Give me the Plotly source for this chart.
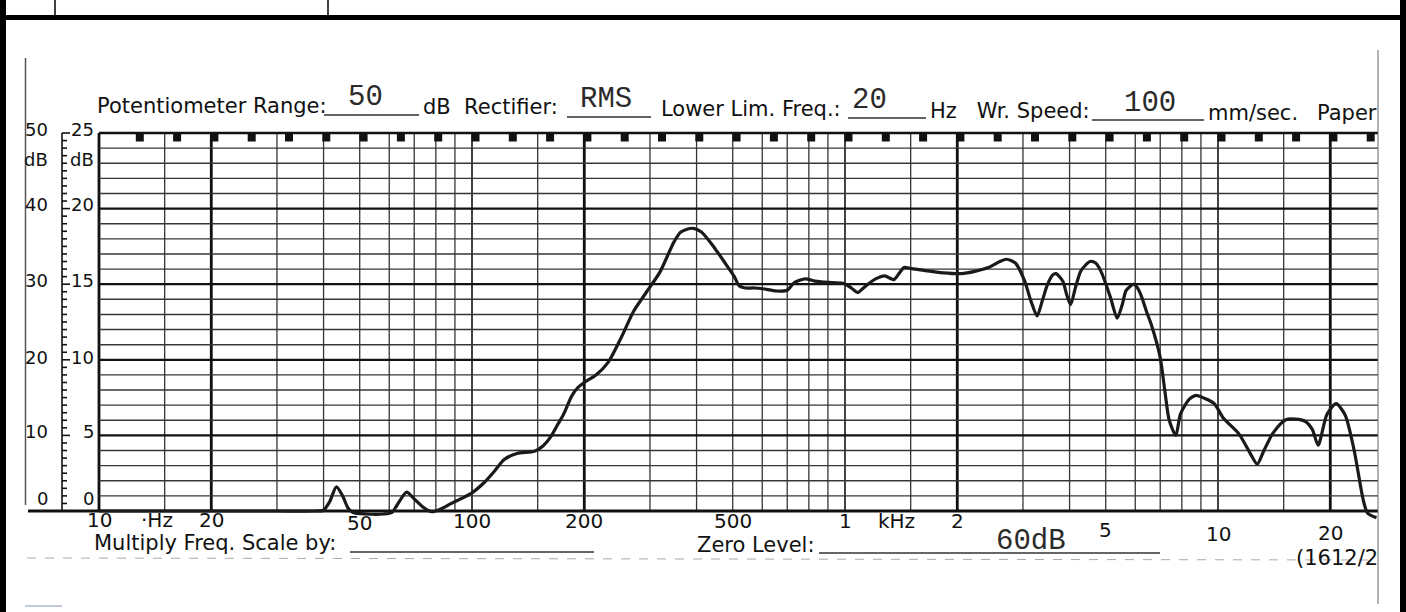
import numpy as np
import plotly.graph_objects as go

# ---------------- data read from the recorder paper ----------------
FREQ_HZ = [10, 20, 30, 38, 40, 41.5, 43.3, 45, 46.5, 48, 52, 58, 61, 63, 66.8, 70, 74, 78,
           82, 88, 95, 100, 108, 115, 122, 132, 147, 155, 162, 170, 176, 185, 192, 200,
           215, 232, 251, 271, 294, 319, 348, 363, 389, 412, 447, 480, 505, 520, 540,
           570, 602, 655, 700, 731, 783, 830, 864, 930, 993, 1040, 1081, 1120, 1159,
           1220, 1279, 1352, 1400, 1440, 1500, 1641, 1835, 2051, 2230, 2424, 2600, 2709,
           2863, 3027, 3150, 3273, 3380, 3481, 3600, 3680, 3837, 3930, 4026, 4150, 4293,
           4539, 4700, 4866, 5145, 5366, 5530, 5675, 5948, 6100, 6255, 6450, 6610, 6993,
           7190, 7400, 7710, 7927, 8380, 8737, 9200, 9772, 10330, 11380, 12210, 12740,
           13280, 14040, 15250, 17050, 17900, 18550, 19600, 20730, 21920, 23180, 24500,
           25180, 26600]
LEVEL_DB = [0.0, 0.0, 0.0, 0.0, 0.1, 1.2, 3.2, 2.0, 0.4, -0.2, -0.4, -0.4, -0.2, 0.8, 2.5,
            1.6, 0.5, -0.1, 0.2, 1.0, 1.8, 2.4, 3.8, 5.3, 6.8, 7.6, 7.9, 8.6, 9.7, 11.5,
            12.8, 15.2, 16.3, 17.0, 18.0, 19.7, 22.9, 26.4, 29.0, 31.6, 35.6, 36.9, 37.4,
            36.9, 34.8, 32.6, 31.0, 29.8, 29.5, 29.5, 29.4, 29.1, 29.2, 30.2, 30.7, 30.4,
            30.3, 30.2, 30.1, 29.5, 28.9, 29.5, 30.1, 30.8, 31.1, 30.6, 31.5, 32.2, 32.1,
            31.8, 31.5, 31.4, 31.7, 32.2, 33.0, 33.3, 32.8, 30.5, 27.8, 25.8, 27.8, 29.8,
            31.2, 31.4, 30.4, 28.6, 27.3, 29.6, 31.8, 33.0, 32.8, 31.6, 28.3, 25.5, 27.2,
            29.2, 30.0, 29.4, 28.2, 26.2, 24.8, 20.4, 16.2, 12.0, 10.0, 12.8, 14.8, 15.3,
            14.9, 14.2, 12.3, 10.2, 7.6, 6.2, 8.0, 10.3, 12.1, 11.9, 10.8, 8.7, 12.8, 14.2,
            12.7, 8.0, 1.5, -0.3, -0.9]

FREQ_TICK_HZ = [10, 20, 50, 100, 200, 500, 1000, 2000, 5000, 10000, 20000]
FREQ_TICK_TEXT = ["10", "20", "50", "100", "200", "500", "1", "2", "5", "10", "20"]
DB50_TICKS = [50, 40, 30, 20, 10, 0]
DB25_TEXT = ["25", "20", "15", "10", "5", "0"]

# ---------------- paper calibration (pixels) ----------------
W, H = 1406, 612
X10 = 99.0      # px of 10 Hz
DEC = 373.0     # px per decade
Y0 = 511.0      # px of 0 dB
PXDB = 7.56     # px per dB
EDGE_HZ = 10 ** (1 + (1378 - X10) / DEC)   # right paper edge


def hz_at(px):
    return 10 ** (1 + (px - X10) / DEC)


INK = "#111111"
THIN = "#363636"
SANS = "DejaVu Sans"
MONO = "Liberation Mono"
TYPE_INK = "#2a2a2a"

fig = go.Figure()


def seg_trace(xs, ys, color, width):
    fig.add_trace(go.Scatter(x=xs, y=ys, mode="lines", line=dict(color=color, width=width),
                             hoverinfo="skip", showlegend=False))


def mantissa(f):
    return round(f / 10 ** np.floor(np.log10(f)), 3)


# grid: vertical lines at 1, 1.5, 2..9 x 10^n
mant = [1, 1.5, 2, 3, 4, 5, 6, 7, 8, 9]
vlines = [m * d for d in (10, 100, 1000, 10000) for m in mant if m * d <= EDGE_HZ]
xs, ys = [], []
for f in vlines:
    if mantissa(f) not in (1.0, 2.0):
        xs += [f, f, None]; ys += [0, 50, None]
seg_trace(xs, ys, THIN, 1.3)
xs, ys = [], []
for f in vlines:
    if mantissa(f) == 1.0 and f != 10:
        xs += [f, f, None]; ys += [0, 50, None]
seg_trace(xs, ys, "#222222", 1.7)
xs, ys = [], []
for f in vlines:
    if mantissa(f) == 2.0 or f == 10:
        xs += [f, f, None]; ys += [0, 50, None]
seg_trace(xs, ys, INK, 2.8)

# horizontal lines every 2 dB, heavier each 10 dB
xs, ys = [], []
for d in range(2, 50, 2):
    if d % 10:
        xs += [10, EDGE_HZ, None]; ys += [d, d, None]
seg_trace(xs, ys, THIN, 1.4)
xs, ys = [], []
for d in range(10, 51, 10):
    xs += [10, EDGE_HZ, None]; ys += [d, d, None]
seg_trace(xs, ys, INK, 2.3)
seg_trace([hz_at(28), EDGE_HZ], [0, 0], INK, 3.2)

# left dB scale: spine + ticks
x_sp = hz_at(62)
xs, ys = [x_sp, x_sp, None], [0, 50, None]
for d in range(0, 51):
    xs += [x_sp, hz_at(70 if d % 10 == 0 else 67), None]; ys += [d, d, None]
seg_trace(xs, ys, INK, 1.6)

# recorder marker squares along the top edge
mk = [10 ** (1 + k / 10 + 3.5 / DEC) for k in range(1, 35)]
fig.add_trace(go.Scatter(x=mk, y=[50 - 4.5 / PXDB] * len(mk), mode="markers",
                         marker=dict(symbol="square", size=8, color=INK, line=dict(width=0)),
                         hoverinfo="skip", showlegend=False))

# response curve
fig.add_trace(go.Scatter(x=FREQ_HZ, y=LEVEL_DB, mode="lines",
                         line=dict(color="#1a1a1a", width=3.2, shape="spline", smoothing=0.7),
                         hoverinfo="skip", showlegend=False))

# ---------------- text ----------------
ann = []


def text(t, x, y, size, anchor="left", family=SANS, color=INK):
    ann.append(dict(text=t, x=x / W, y=1 - y / H, xref="paper", yref="paper",
                    xanchor=anchor, yanchor="middle", showarrow=False,
                    font=dict(family=family, size=size, color=color)))


# header
text("Potentiometer Range:", 95, 106, 21)
text("50", 366, 98, 29, "center", MONO, TYPE_INK)
text("dB  Rectifier:", 421, 107, 21)
text("RMS", 606, 100, 29, "center", MONO, TYPE_INK)
text("Lower Lim. Freq.:", 659, 109, 21)
text("20", 869, 101, 29, "center", MONO, TYPE_INK)
text("Hz   Wr. Speed:", 928, 111, 21)
text("100", 1150, 103, 29, "center", MONO, TYPE_INK)
text("mm/sec.", 1206, 113, 21)
text("Paper", 1379, 113, 21, "right")

# left scales
ys_lab = [129, 205, 281, 357, 431, 498]
for v, t2, yy in zip(DB50_TICKS, DB25_TEXT, ys_lab):
    text(str(v), 50, yy, 18, "right")
    text(t2, 96, yy, 18, "right")
text("dB", 50, 160, 18, "right")
text("dB", 96, 160, 18, "right")

# frequency labels (placed through the log x axis)
ylab = [520, 520, 523, 521, 521, 521, 521, 521, 530, 534, 533]
for f, t, yy in zip(FREQ_TICK_HZ, FREQ_TICK_TEXT, ylab):
    ann.append(dict(text=t, x=np.log10(f), y=1 - yy / H, xref="x", yref="paper",
                    xanchor="center", yanchor="middle", showarrow=False,
                    font=dict(family=SANS, size=20, color=INK)))
text("·Hz", 157, 520, 20, "center")
text("kHz", 896, 521, 20, "center")

# footer
text("Multiply Freq. Scale by:", 92, 543, 21)
text("Zero Level:", 695, 545, 21)
text("60dB", 1031, 541, 29, "center", MONO, TYPE_INK)
text("(1612/2", 1380, 558, 21, "right")

# ---------------- decorative shapes (paper, frame) ----------------
shapes = []


def line(x0, y0, x1, y1, color, width, dash="solid"):
    shapes.append(dict(type="line", xref="paper", yref="paper", x0=x0 / W, x1=x1 / W,
                       y0=1 - y0 / H, y1=1 - y1 / H, line=dict(color=color, width=width, dash=dash)))


# form underlines
line(324, 115, 419, 115, "#333", 1.4)
line(567, 117, 651, 117, "#333", 1.4)
line(848, 118, 926, 118, "#333", 1.4)
line(1092, 120, 1204, 120, "#333", 1.4)
line(350, 552, 594, 552, "#333", 1.4)
line(819, 553, 1160, 553, "#333", 1.4)
# paper edges / scan lines
line(25.5, 58, 25.5, 505, "#555", 1.5)
line(1378, 50, 1378, 604, "#666", 1)
line(27, 558, 1378, 560, "#aaa", 1, "dash")
line(25, 606, 62, 606, "#8899aa", 1.2)
# document frame
shapes.append(dict(type="rect", xref="paper", yref="paper", x0=0, x1=6 / W, y0=0, y1=1,
                   fillcolor="black", line=dict(width=0)))
shapes.append(dict(type="rect", xref="paper", yref="paper", x0=1400 / W, x1=1, y0=0, y1=1,
                   fillcolor="black", line=dict(width=0)))
shapes.append(dict(type="rect", xref="paper", yref="paper", x0=0, x1=1, y0=1 - 20 / H,
                   y1=1 - 15 / H, fillcolor="black", line=dict(width=0)))
line(55, 0, 55, 15, "black", 1.5)
line(328, 0, 328, 15, "black", 1.5)

fig.update_layout(
    width=W, height=H, margin=dict(l=0, r=0, t=0, b=0),
    paper_bgcolor="white", plot_bgcolor="white",
    xaxis=dict(type="log", range=[1 - X10 / DEC, 1 + (W - X10) / DEC], visible=False,
               showgrid=False, zeroline=False, fixedrange=True),
    yaxis=dict(range=[(Y0 - H) / PXDB, Y0 / PXDB], visible=False, showgrid=False,
               zeroline=False, fixedrange=True),
    annotations=ann, shapes=shapes, showlegend=False,
)

fig.write_html("out.html", config={"displayModeBar": False, "staticPlot": True},
               post_script="document.body.style.margin='0';")
